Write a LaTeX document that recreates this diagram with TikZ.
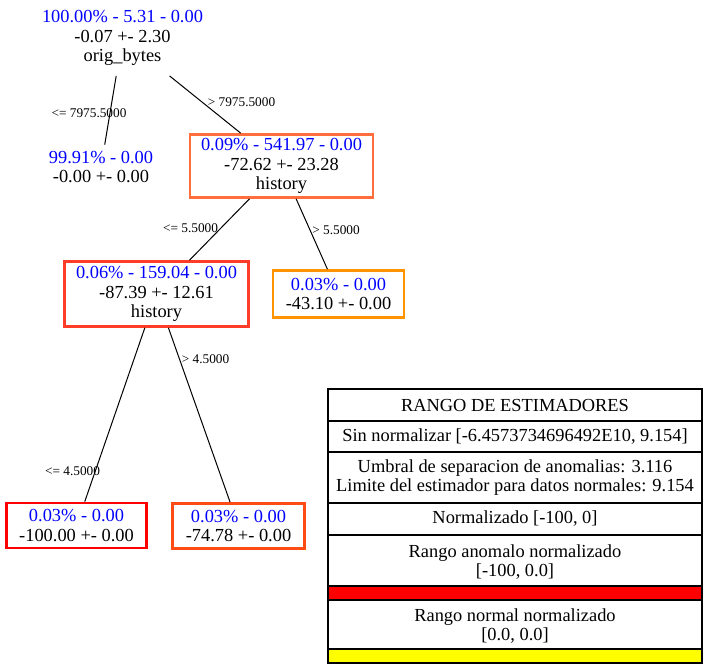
\documentclass[tikz,border=0pt]{standalone}
\usepackage{fontspec}
\setmainfont{Liberation Serif}
\usetikzlibrary{positioning}

\definecolor{rojoA}{RGB}{255,0,0}
\definecolor{rojoB}{RGB}{255,60,40}
\definecolor{rojoC}{RGB}{255,75,20}
\definecolor{naranjaA}{RGB}{255,110,60}
\definecolor{naranjaB}{RGB}{255,148,0}
\definecolor{amarillo}{RGB}{255,255,0}

\begin{document}
\begin{tikzpicture}[x=1pt,y=-1pt,line width=1pt,
  texto/.style={align=center,font=\fontsize{18.4}{19.3}\selectfont},
  caja/.style={texto,draw=#1,line width=2.6pt,inner sep=0pt},
  cond/.style={font=\fontsize{13.3}{15}\selectfont,inner sep=0pt},
  celda/.style={texto,draw,line width=1.2pt,outer sep=0pt,inner sep=0pt,minimum width=374pt}]
  \useasboundingbox (0,0) rectangle (707,669);
  % arbol
  \node[texto,inner sep=10pt] (raiz) at (122.5,38)
    {\textcolor{blue}{100.00\% - 5.31 - 0.00}\\-0.07 +- 2.30\\orig\_bytes};
  \node[texto,inner sep=6pt] (hoja1) at (101,167)
    {\textcolor{blue}{99.91\% - 0.00}\\-0.00 +- 0.00};
  \node[caja=naranjaA,minimum width=183pt,minimum height=63pt] (hist1) at (281.5,166)
    {\textcolor{blue}{0.09\% - 541.97 - 0.00}\\-72.62 +- 23.28\\history};
  \node[caja=rojoB,minimum width=184pt,minimum height=65pt] (hist2) at (156.5,294)
    {\textcolor{blue}{0.06\% - 159.04 - 0.00}\\-87.39 +- 12.61\\history};
  \node[caja=naranjaB,minimum width=131pt,minimum height=47pt] (hoja2) at (338.5,294)
    {\textcolor{blue}{0.03\% - 0.00}\\-43.10 +- 0.00};
  \node[caja=rojoA,minimum width=140pt,minimum height=45pt] (hoja3) at (76.5,525.5)
    {\textcolor{blue}{0.03\% - 0.00}\\-100.00 +- 0.00};
  \node[caja=rojoC,minimum width=132pt,minimum height=45pt] (hoja4) at (238.5,526)
    {\textcolor{blue}{0.03\% - 0.00}\\-74.78 +- 0.00};

  \draw (raiz) -- (hoja1);
  \draw (raiz) -- (hist1);
  \draw (hist1) -- (hist2);
  \draw (hist1) -- (hoja2);
  \draw (hist2) -- (hoja3);
  \draw (hist2) -- (hoja4);

  % condiciones
  \node[cond] (c1) at (89,113) {<= 7975.5000};
  \node[cond] (c2) at (241.5,102) {> 7975.5000};
  \node[cond] (c3) at (190.5,228) {<= 5.5000};
  \node[cond] (c4) at (336,230) {> 5.5000};
  \node[cond] (c5) at (72.5,471) {<= 4.5000};
  \node[cond] (c6) at (205.5,359) {> 4.5000};

  % leyenda
  \node[celda,minimum height=32pt] (t1) at (515,405) {RANGO DE ESTIMADORES};
  \node[celda,minimum height=31pt,below=0pt of t1] (t2) {Sin normalizar [-6.4573734696492E10, 9.154]};
  \node[celda,minimum height=51pt,below=0pt of t2] (t3)
    {Umbral de separacion de anomalias: 3.116\\Limite del estimador para datos normales: 9.154};
  \node[celda,minimum height=32pt,below=0pt of t3] (t4) {Normalizado [-100, 0]};
  \node[celda,minimum height=51pt,below=0pt of t4] (t5) {\rule{0pt}{16pt}Rango anomalo normalizado\\{}[-100, 0.0]};
  \node[celda,minimum height=14pt,fill=rojoA,below=0pt of t5] (t6) {};
  \node[celda,minimum height=49pt,below=0pt of t6] (t7) {\rule{0pt}{16pt}Rango normal normalizado\\{}[0.0, 0.0]};
  \node[celda,minimum height=14pt,fill=amarillo,below=0pt of t7] (t8) {};
\end{tikzpicture}
\end{document}
